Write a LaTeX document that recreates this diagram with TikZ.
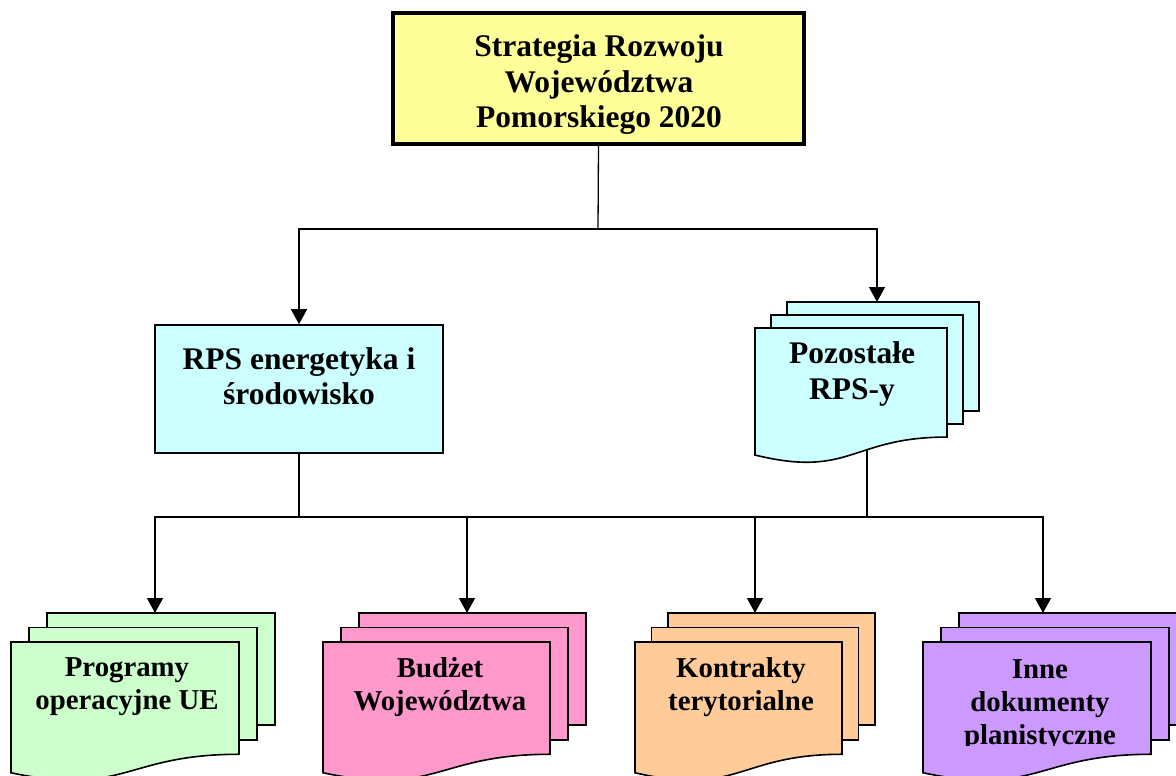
\documentclass[tikz,border=0pt]{standalone}
\usepackage{fontspec}
\setmainfont{Liberation Serif}
\usetikzlibrary{arrows.meta}

\definecolor{paleyellow}{HTML}{FFFF99}
\definecolor{palecyan}{HTML}{CCFFFF}
\definecolor{palegreen}{HTML}{CCFFCC}
\definecolor{palepink}{HTML}{FF99CC}
\definecolor{paleorange}{HTML}{FFCC99}
\definecolor{palepurple}{HTML}{CC99FF}

\tikzset{
  sheet/.style={draw=black,line width=1.6pt},
  conn/.style={line width=1.3pt},
  arr/.style={conn,-{Triangle[length=15pt,width=16pt]}},
  bigtxt/.style={font=\bfseries\fontsize{31.5}{35.5}\selectfont,align=center},
  doctxt/.style={font=\bfseries\fontsize{28.8}{33}\selectfont,align=center},
}

% Stapel aus drei Blaettern: links, oben, Breite, Hoehe, Farbe, dx, dy
\newcommand{\docstack}[7]{%
  \foreach \k in {2,1} {
    \filldraw[sheet,fill=#5] ({#1+\k*#6},{#2-\k*#7}) rectangle ++(#3,{0.802*#4});
  }
  \filldraw[sheet,fill=#5] (#1,#2) -- ++(#3,0) -- ++(0,{0.802*#4})
    .. controls ({#1+0.5*#3},{#2+0.802*#4}) and ({#1+0.5*#3},{#2+1.107*#4}) .. (#1,{#2+0.934*#4}) -- cycle;
}

\begin{document}
\begin{tikzpicture}[x=1pt,y=-1pt]
  \useasboundingbox (0,0) rectangle (1176,776);
  %%%% Strategia
  \node[draw,line width=3.5pt,fill=paleyellow,minimum width=411pt,minimum height=131pt,inner sep=0pt] (strategia) at (598.5,78.5) {};
  \node[bigtxt] (strategia-txt) at (599,85) {Strategia Rozwoju\\Województwa\\Pomorskiego 2020};
  %%%% RPS
  \node[draw,line width=1.6pt,fill=palecyan,minimum width=288pt,minimum height=128pt,inner sep=0pt] (rps) at (299,389) {};
  \node[bigtxt] (rps-txt) at (299,376) {RPS energetyka i\\środowisko};
  \docstack{755}{328}{192}{136}{palecyan}{16}{13}
  \node[bigtxt] (pozostale) at (852,374) {Pozostałe\\RPS-y};
  \coordinate (pozostale-in) at (877,302);
  \coordinate (pozostale-out) at (867,450);
  %%%% Dokumente unten
  \docstack{11}{642}{228}{140}{palegreen}{18}{14.5}
  \docstack{323}{642}{227}{140}{palepink}{18}{14.5}
  \docstack{635}{642}{207}{140}{paleorange}{16.5}{14.5}
  \docstack{923}{642}{228}{140}{palepurple}{18}{14.5}
  \node[doctxt] (programy) at (127,687) {Programy\\operacyjne UE};
  \node[doctxt] (budzet) at (440,687) {Budżet\\Województwa};
  \node[doctxt] (kontrakty) at (741,687) {Kontrakty\\terytorialne};
  \begin{scope}
    \clip (900,600) rectangle (1176,745);
    \node[doctxt] (inne) at (1040,705) {Inne\\dokumenty\\planistyczne};
  \end{scope}
  \coordinate (programy-in) at (155,613);
  \coordinate (budzet-in) at (467,613);
  \coordinate (kontrakty-in) at (755,613);
  \coordinate (inne-in) at (1043,613);
  %%%% Verbindungen
  \coordinate (split-top) at (598,229);
  \coordinate (split-bottom) at (299,517);
  \draw[conn] (strategia.south) -- (split-top);
  \draw[arr] (split-top) -| (rps.north);
  \draw[arr] (split-top) -| (pozostale-in);
  \draw[conn] (rps.south) -- (split-bottom);
  \draw[conn] (pozostale-out) -- (pozostale-out |- split-bottom);
  \draw[arr] (split-bottom) -| (programy-in);
  \draw[arr] (split-bottom) -| (inne-in);
  \foreach \n in {budzet,kontrakty} {
    \draw[arr] (split-bottom -| \n-in) -- (\n-in);
  }
\end{tikzpicture}
\end{document}
